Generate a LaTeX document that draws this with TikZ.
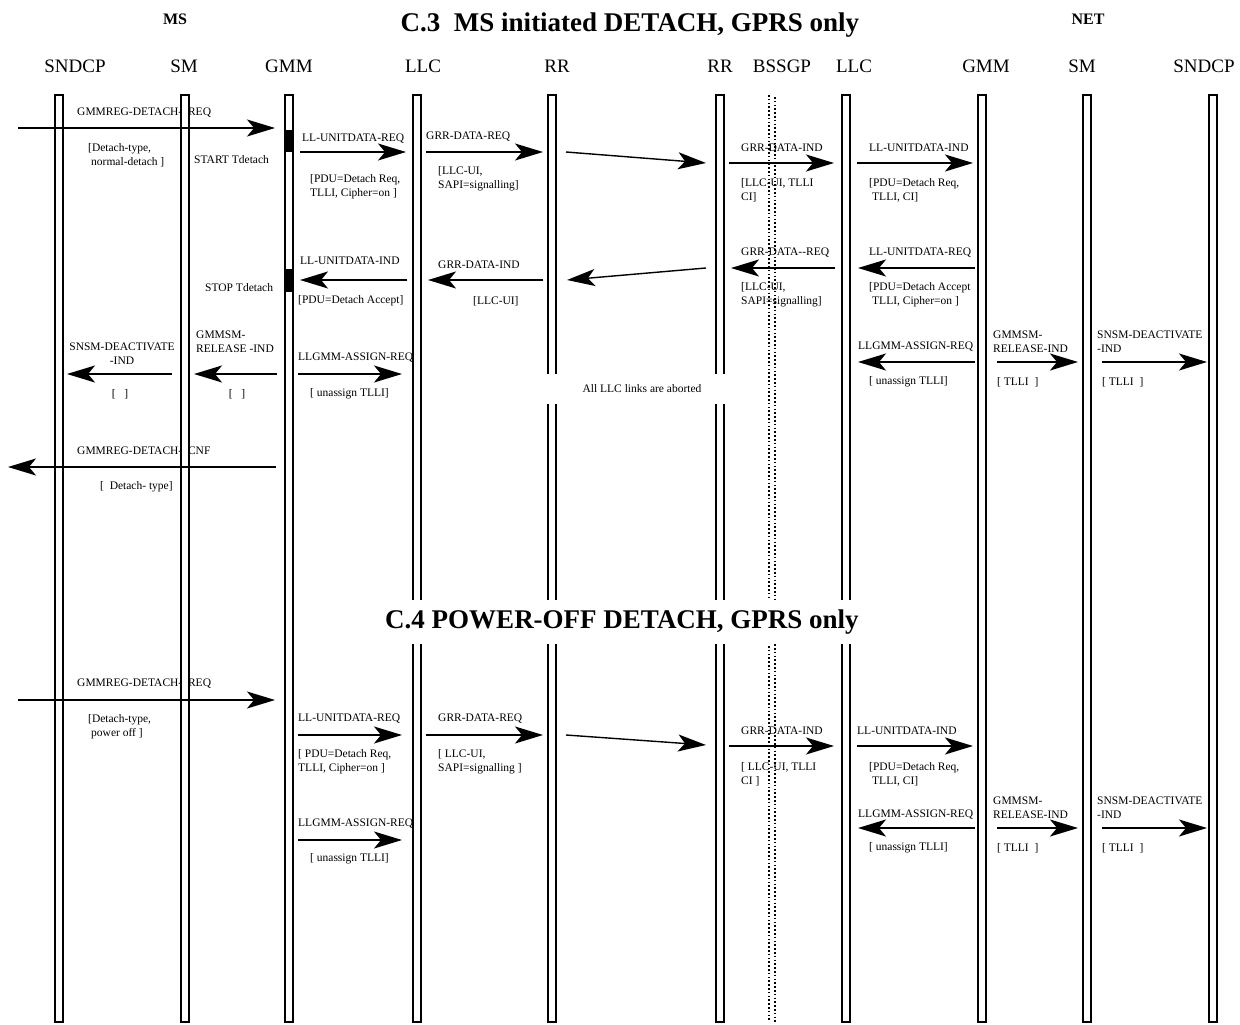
\documentclass[tikz,border=0pt]{standalone}
\usepackage{fontspec}
\setmainfont{Liberation Serif}
\usetikzlibrary{arrows.meta}
\tikzset{x=1pt,y=-1pt,
  lifeline/.style={draw,line width=1.1pt,fill=white,inner sep=0pt,minimum width=8pt,minimum height=927pt},
  sig/.style={line width=1.8pt,-{Stealth[length=28pt,width=17pt,inset=7pt]}},
  hop/.style={sig,line width=1.4pt},
  lbl/.style={anchor=west,align=left,inner sep=0pt,font=\fontsize{11.5}{14}\selectfont},
  clbl/.style={lbl,anchor=center,align=center},
  head/.style={anchor=base,inner sep=0pt,font=\fontsize{19}{22}\selectfont},
  ttl/.style={anchor=base,inner sep=0pt,font=\bfseries\fontsize{27}{30}\selectfont},
  side/.style={anchor=base,inner sep=0pt,font=\bfseries\fontsize{16}{18}\selectfont},
  bssgp/.style={line width=1.6pt,dash pattern=on 1.6pt off 2.2pt}}
% message: style, name, x1, y1, x2, y2
\newcommand{\msgline}[6][sig]{%
  \coordinate (#2s) at (#3,#4); \coordinate (#2e) at (#5,#6);
  \draw[#1] (#2s) -- (#2e);}

\begin{document}
\begin{tikzpicture}
\useasboundingbox (0,0) rectangle (1240,1025);
% lifelines
\foreach \x/\n in {59/msSndcp,185/msSm,289/msGmm,417/msLlc,552/msRr,
    720/netRr,846/netLlc,982/netGmm,1087/netSm,1213/netSndcp}
  \node[lifeline] (\n) at (\x,558.5) {};
\draw[bssgp] (769,95) -- (769,1022);
\draw[bssgp,dash phase=1.9pt] (775,95) -- (775,1022);
% Tdetach running
\fill (285,130) rectangle (293,152);
\fill (285,269) rectangle (293,292);

% headings
\node[side] (ms) at (175,25) {MS};
\node[side] (net) at (1088,25) {NET};
\node[ttl] (titleA) at (630,32) {C.3\ \ MS initiated DETACH, GPRS only};
\node[ttl,anchor=center,fill=white,minimum width=490pt,minimum height=44pt]
  (titleB) at (622,622) {C.4 POWER-OFF DETACH, GPRS only};
\foreach \x/\t [count=\i] in {75/SNDCP,184/SM,289/GMM,423/LLC,557/RR,720/RR,
    782/BSSGP,854/LLC,986/GMM,1082/SM,1204/SNDCP}
  \node[head] (hd\i) at (\x,73) {\t};

% C.3 detach request
\node[lbl] (r1) at (77,113) {GMMREG-DETACH-\ \ REQ};
\node[lbl] (r1p) at (88,155) {[Detach-type,\\\hspace*{3pt}normal-detach ]};
\node[lbl] (tstart) at (194,160) {START Tdetach};
\node[lbl] (r2) at (302,139) {LL-UNITDATA-REQ};
\node[lbl] (r2p) at (310,187) {[PDU=Detach Req,\\TLLI, Cipher=on ]};
\node[lbl] (r3) at (426,137) {GRR-DATA-REQ};
\node[lbl] (r3p) at (438,179) {[LLC-UI,\\SAPI=signalling]};
\node[lbl] (r4) at (741,148) {GRR-DATA-IND};
\node[lbl] (r4p) at (741,190) {[LLC-UI, TLLI\\CI]};
\node[lbl] (r5) at (869,148) {LL-UNITDATA-IND};
\node[lbl] (r5p) at (869,190) {[PDU=Detach Req,\\\hspace*{3pt}TLLI, CI]};
\msgline{a1}{18}{128}{275}{128}
\msgline{a2}{300}{152}{406}{152}
\msgline{a3}{426}{152}{543}{152}
\msgline[hop]{a4}{566}{152}{706}{163}
\msgline{a5}{729}{163}{834}{163}
\msgline{a6}{857}{163}{973}{163}

% detach accept
\node[lbl] (k1) at (869,253) {LL-UNITDATA-REQ};
\node[lbl] (k1p) at (869,295) {[PDU=Detach Accept\\\hspace*{3pt}TLLI, Cipher=on ]};
\node[lbl] (k2) at (741,253) {GRR-DATA-{}-REQ};
\node[lbl] (k2p) at (741,295) {[LLC-UI,\\SAPI=signalling]};
\node[lbl] (k3) at (438,265) {GRR-DATA-IND};
\node[lbl] (k3p) at (473,301) {[LLC-UI]};
\node[lbl] (k4) at (300,261) {LL-UNITDATA-IND};
\node[lbl] (k4p) at (298,301) {[PDU=Detach Accept]};
\node[lbl] (tstop) at (205,288) {STOP Tdetach};
\msgline{b1}{975}{268}{858}{268}
\msgline{b2}{835}{268}{731}{268}
\msgline[hop]{b3}{706}{268}{567}{280}
\msgline{b4}{543}{280}{428}{280}
\msgline{b5}{407}{280}{300}{280}

% release on both sides
\node[clbl] (m1) at (122,354) {SNSM-DEACTIVATE\\-IND};
\node[clbl] (m1p) at (120,394) {[\ \ \ ]};
\node[lbl] (m2) at (196,342) {GMMSM-\\RELEASE -IND};
\node[clbl] (m2p) at (237,394) {[\ \ \ ]};
\node[lbl] (m3) at (298,358) {LLGMM-ASSIGN-REQ};
\node[lbl] (m3p) at (310,394) {[ unassign TLLI]};
\node[clbl,fill=white,minimum width=196pt,minimum height=30pt]
  (abort) at (642,389) {All LLC links are aborted};
\node[lbl] (n1) at (858,347) {LLGMM-ASSIGN-REQ};
\node[lbl] (n1p) at (869,382) {[ unassign TLLI]};
\node[lbl] (n2) at (993,342) {GMMSM-\\RELEASE-IND};
\node[lbl] (n2p) at (997,382) {[ TLLI\ \ ]};
\node[lbl] (n3) at (1097,342) {SNSM-DEACTIVATE\\-IND};
\node[lbl] (n3p) at (1102,382) {[ TLLI\ \ ]};
\msgline{c1}{172}{374}{67}{374}
\msgline{c2}{277}{374}{194}{374}
\msgline{c3}{298}{374}{402}{374}
\msgline{c4}{975}{362}{858}{362}
\msgline{c5}{997}{362}{1078}{362}
\msgline{c6}{1102}{362}{1207}{362}

% confirm
\node[lbl] (cf) at (77,451) {GMMREG-DETACH-\ \ CNF};
\node[lbl] (cfp) at (100,487) {[\ \ Detach- type]};
\msgline{d1}{276}{467}{8}{467}

% C.4 power off
\node[lbl] (p1) at (77,684) {GMMREG-DETACH-\ \ REQ};
\node[lbl] (p1p) at (88,727) {[Detach-type,\\\hspace*{3pt}power off ]};
\node[lbl] (p2) at (298,719) {LL-UNITDATA-REQ};
\node[lbl] (p2p) at (298,762) {[ PDU=Detach Req,\\TLLI, Cipher=on ]};
\node[lbl] (p3) at (298,824) {LLGMM-ASSIGN-REQ};
\node[lbl] (p3p) at (310,859) {[ unassign TLLI]};
\node[lbl] (p4) at (438,719) {GRR-DATA-REQ};
\node[lbl] (p4p) at (438,762) {[ LLC-UI,\\SAPI=signalling ]};
\node[lbl] (p5) at (741,731) {GRR-DATA-IND};
\node[lbl] (p5p) at (741,774) {[ LLC-UI, TLLI\\CI ]};
\node[lbl] (p6) at (857,731) {LL-UNITDATA-IND};
\node[lbl] (p6p) at (869,774) {[PDU=Detach Req,\\\hspace*{3pt}TLLI, CI]};
\node[lbl] (p7) at (858,815) {LLGMM-ASSIGN-REQ};
\node[lbl] (p7p) at (869,848) {[ unassign TLLI]};
\node[lbl] (p8) at (993,808) {GMMSM-\\RELEASE-IND};
\node[lbl] (p8p) at (997,848) {[ TLLI\ \ ]};
\node[lbl] (p9) at (1097,808) {SNSM-DEACTIVATE\\-IND};
\node[lbl] (p9p) at (1102,848) {[ TLLI\ \ ]};
\msgline{e1}{18}{700}{275}{700}
\msgline{e2}{298}{735}{402}{735}
\msgline{e3}{298}{840}{402}{840}
\msgline{e4}{426}{735}{543}{735}
\msgline[hop]{e5}{566}{735}{706}{745}
\msgline{e6}{729}{746}{834}{746}
\msgline{e7}{857}{746}{973}{746}
\msgline{e8}{975}{828}{858}{828}
\msgline{e9}{997}{828}{1078}{828}
\msgline{e10}{1102}{828}{1207}{828}
\end{tikzpicture}
\end{document}
